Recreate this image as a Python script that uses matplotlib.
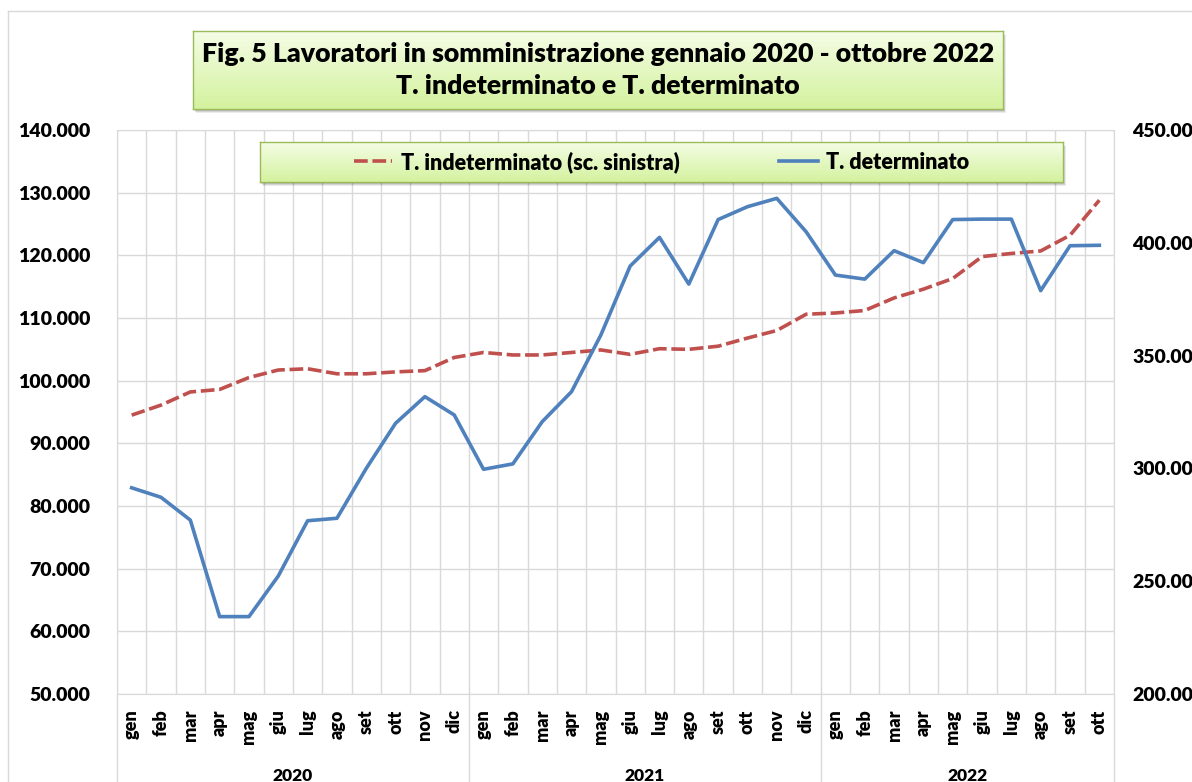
import matplotlib
matplotlib.use("Agg")
import matplotlib.pyplot as plt
import numpy as np
from matplotlib.ticker import FuncFormatter, MultipleLocator
from matplotlib.transforms import blended_transform_factory
from matplotlib.patches import Rectangle
from matplotlib.lines import Line2D

plt.rcParams['font.family'] = ['Lato', 'DejaVu Sans']

# ---------------------------------------------------------------------------
# data
# ---------------------------------------------------------------------------
months = ["gen", "feb", "mar", "apr", "mag", "giu", "lug", "ago", "set", "ott", "nov", "dic"]
years = ["2020", "2021", "2022"]
month_labels = months * 2 + months[:10]

indeterminato = [94500, 96100, 98200, 98600, 100500, 101700, 101900, 101100, 101100, 101400, 101600, 103700,
                 104500, 104100, 104100, 104500, 104900, 104200, 105100, 105000, 105500, 106800, 108000, 110600,
                 110800, 111200, 113200, 114600, 116300, 119800, 120300, 120700, 123200, 128800]

determinato = [291400, 287200, 277100, 234300, 234300, 252300, 276800, 277900, 300000, 320000, 331800, 323700,
               299600, 302000, 320700, 334000, 359100, 389700, 402400, 381700, 410300, 416000, 419700, 404900,
               385700, 383900, 396500, 391200, 410300, 410500, 410500, 378800, 398700, 398900]

W, H = 1192, 782
GRID = "#d9d9d9"
RED = "#c0504d"
BLUE = "#4f81bd"
WEIGHT = "heavy"


def thousands(v, pos):
    return f"{int(round(v)):,}".replace(",", ".")


def green_box(rect, z):
    # drop shadow + gradient filled box, like the Excel shape style
    x0, y0, w, h = rect
    for i, a in enumerate([0.10, 0.10, 0.08]):
        fig.add_artist(Rectangle(((x0 + 1 + i) / W, 1 - (y0 + h + 2 + i) / H), w / W, h / H,
                                 transform=fig.transFigure, color="black", alpha=a,
                                 lw=0, zorder=z - 0.5))
    bx = fig.add_axes([x0 / W, 1 - (y0 + h) / H, w / W, h / H], zorder=z)
    grad = np.linspace(0, 1, 64).reshape(-1, 1)
    top = np.array([0.96, 0.99, 0.90])
    bot = np.array([0.83, 0.95, 0.62])
    img = top + grad[..., None] * (bot - top)
    bx.imshow(img, extent=[0, 1, 0, 1], aspect="auto", origin="upper")
    bx.set_xlim(0, 1)
    bx.set_ylim(0, 1)
    bx.set_xticks([])
    bx.set_yticks([])
    for s in bx.spines.values():
        s.set_color("#9bbb59")
        s.set_linewidth(1.0)
    return bx


fig = plt.figure(figsize=(W / 100, H / 100), dpi=100)

# outer chart border (only left and top edges are visible)
fig.add_artist(Line2D([8 / W, 8 / W], [0, 1 - 11 / H], transform=fig.transFigure, color=GRID, lw=1))
fig.add_artist(Line2D([8 / W, 1], [1 - 11 / H, 1 - 11 / H], transform=fig.transFigure, color=GRID, lw=1))

ax = fig.add_axes([117 / W, 1 - 694 / H, (1114 - 117) / W, (694 - 130) / H])
ax2 = ax.twinx()

x = np.arange(len(month_labels))
l1, = ax.plot(x, indeterminato, color=RED, lw=2.6, dashes=(3.8, 1.3),
              label="T. indeterminato (sc. sinistra)")
l2, = ax2.plot(x, determinato, color=BLUE, lw=2.6, label="T. determinato")

ax.set_xlim(-0.5, len(month_labels) - 0.5)
ax.set_ylim(50000, 140000)
ax2.set_ylim(200000, 450000)
ax.yaxis.set_major_locator(MultipleLocator(10000))
ax2.yaxis.set_major_locator(MultipleLocator(50000))
ax.yaxis.set_major_formatter(FuncFormatter(thousands))
ax2.yaxis.set_major_formatter(FuncFormatter(thousands))

ax.set_xticks(x)
ax.set_xticklabels(month_labels, rotation=90, fontweight=WEIGHT, fontsize=13)
ax.set_xticks(np.arange(-0.5, len(month_labels), 1), minor=True)

ax.tick_params(axis="x", which="both", length=0, pad=11)
ax.tick_params(axis="y", length=0, pad=19, labelsize=14)
ax2.tick_params(axis="y", length=0, pad=13, labelsize=14)
for lab in ax.get_yticklabels() + ax2.get_yticklabels():
    lab.set_fontweight(WEIGHT)

ax.grid(which="minor", axis="x", color=GRID, lw=1)
ax.grid(which="major", axis="y", color=GRID, lw=1)
ax.set_axisbelow(True)
for s in ax.spines.values():
    s.set_color(GRID)
for s in ax2.spines.values():
    s.set_visible(False)

# year group labels and separators below the axis
trans = blended_transform_factory(ax.transData, ax.transAxes)
for i, yr in enumerate(years):
    start = i * 12 - 0.5
    end = min(start + 12, len(month_labels) - 0.5)
    ax.text((start + end) / 2, -(776 - 694) / 564, yr, transform=trans, ha="center", va="center",
            fontsize=12.5, fontweight=WEIGHT)
for xs in [-0.5, 11.5, 23.5, len(month_labels) - 0.5]:
    ax.plot([xs, xs], [0, -0.2], transform=trans, color=GRID, lw=1, clip_on=False)

# title box
tb = green_box((193, 31, 810, 78), 6)
tb.text(0.5, 0.5, "Fig. 5 Lavoratori in somministrazione gennaio 2020 - ottobre 2022\nT. indeterminato e T. determinato",
        ha="center", va="center", fontsize=19.2, fontweight=WEIGHT, linespacing=1.42, transform=tb.transAxes)

# legend box
lb = green_box((260, 142, 803, 40), 6)
lb.legend(handles=[l1, l2], ncol=2, loc="center", frameon=False,
          prop={"weight": WEIGHT, "size": 15.5}, handlelength=1.8,
          columnspacing=4.6, handletextpad=0.4)

fig.savefig("out.png", dpi=100)
